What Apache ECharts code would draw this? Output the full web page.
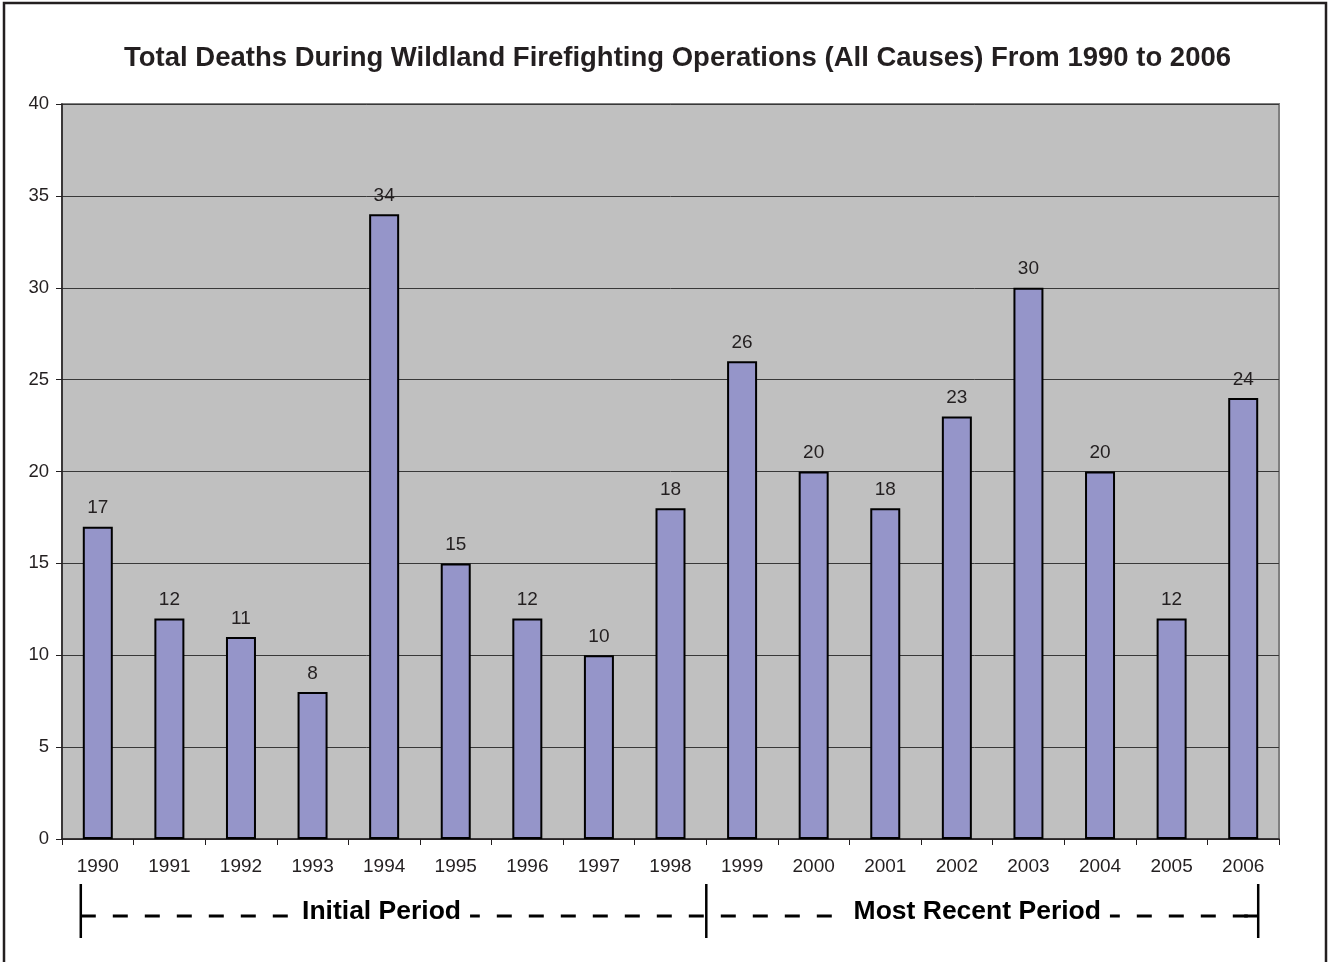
<!DOCTYPE html>
<html>
<head>
<meta charset="utf-8">
<script src="https://cdn.jsdelivr.net/npm/echarts@6/dist/echarts.min.js"></script>
<style>
html,body{margin:0;padding:0;background:#fff;}
#c{width:1328px;height:962px;}
</style>
</head>
<body>
<div id="c"></div>
<script>
var years = ['1990','1991','1992','1993','1994','1995','1996','1997','1998','1999','2000','2001','2002','2003','2004','2005','2006'];
var deaths = [17,12,11,8,34,15,12,10,18,26,20,18,23,30,20,12,24];
var periodLabels = ['Initial Period','Most Recent Period'];
var periodStart = ['1990','1999'];
var periodEnd = ['1998','2006'];

var FONT = '"Liberation Sans", Arial, sans-serif';
var chart = echarts.init(document.getElementById('c'));
var option = {
  backgroundColor: '#ffffff',
  animation: false,
  title: {
    text: 'Total Deaths During Wildland Firefighting Operations (All Causes) From 1990 to 2006',
    left: 119,
    top: 39,
    textStyle: {fontFamily: FONT, fontSize: 27.5, fontWeight: 'bold', color: '#231f20'}
  },
  grid: {
    left: 62, right: 49, top: 104, bottom: 123,
    show: true, backgroundColor: '#c0c0c0', borderColor: '#808080', borderWidth: 2
  },
  xAxis: {
    type: 'category',
    data: years,
    axisLine: {lineStyle: {color: '#231f20', width: 1.5}},
    axisTick: {show: true, interval: 0, length: 6, lineStyle: {color: '#231f20'}},
    axisLabel: {interval: 0, margin: 18, fontFamily: FONT, fontSize: 19, color: '#231f20'}
  },
  yAxis: {
    type: 'value',
    min: 0, max: 40, interval: 5,
    axisLine: {show: true, lineStyle: {color: '#231f20', width: 1.5}},
    axisTick: {show: true, length: 6, lineStyle: {color: '#231f20'}},
    axisLabel: {margin: 13, fontFamily: FONT, fontSize: 18.5, color: '#231f20'},
    splitLine: {show: true, lineStyle: {color: '#383838', width: 1}}
  },
  series: [{
    type: 'bar',
    data: deaths,
    barWidth: 30,
    itemStyle: {color: '#9595c9', borderColor: '#000', borderWidth: 2},
    label: {show: true, position: 'top', distance: 9, fontFamily: FONT, fontSize: 19, color: '#231f20'}
  }]
};
chart.setOption(option);

function cx(cat){ return chart.convertToPixel({xAxisIndex:0}, cat); }
var yBase = chart.convertToPixel({yAxisIndex:0}, 0);
var half = 17;
var xLeft = cx(periodStart[0]) - half;
var xMid = (cx(periodEnd[0]) + cx(periodStart[1])) / 2;
var xRight = cx(periodEnd[1]) + half - 2;
var yDash = yBase + 77;
var yTop = yBase + 45;
var yBot = yBase + 99;
var lineCol = '#000';
var els = [
  {type:'line', shape:{x1:xLeft, y1:yDash, x2:xRight, y2:yDash}, style:{stroke:lineCol, lineWidth:3, lineDash:[15,17]}, z:10},
  {type:'line', shape:{x1:xLeft, y1:yTop, x2:xLeft, y2:yBot}, style:{stroke:lineCol, lineWidth:2.5}, z:12},
  {type:'line', shape:{x1:xMid, y1:yTop, x2:xMid, y2:yBot}, style:{stroke:lineCol, lineWidth:2.5}, z:12},
  {type:'line', shape:{x1:xRight, y1:yTop, x2:xRight, y2:yBot}, style:{stroke:lineCol, lineWidth:2.5}, z:12},
  {type:'line', shape:{x1:xRight-14, y1:yDash, x2:xRight, y2:yDash}, style:{stroke:lineCol, lineWidth:3}, z:12},
  {type:'text', x:(xLeft+xMid)/2 - 12, y:yDash - 4, z:11,
   style:{text:periodLabels[0], fontFamily:FONT, fontSize:26.5, fontWeight:'bold', fill:'#000',
          align:'center', verticalAlign:'middle', backgroundColor:'#fff', padding:[0,9]}},
  {type:'text', x:(xMid+xRight)/2 - 5, y:yDash - 4, z:11,
   style:{text:periodLabels[1], fontFamily:FONT, fontSize:26.5, fontWeight:'bold', fill:'#000',
          align:'center', verticalAlign:'middle', backgroundColor:'#fff', padding:[0,9]}},
  {type:'rect', shape:{x:4, y:3, width:1322, height:975}, style:{fill:'none', stroke:'#231f20', lineWidth:2.5}, z:1}
];
chart.setOption({graphic: els});
</script>
</body>
</html>
